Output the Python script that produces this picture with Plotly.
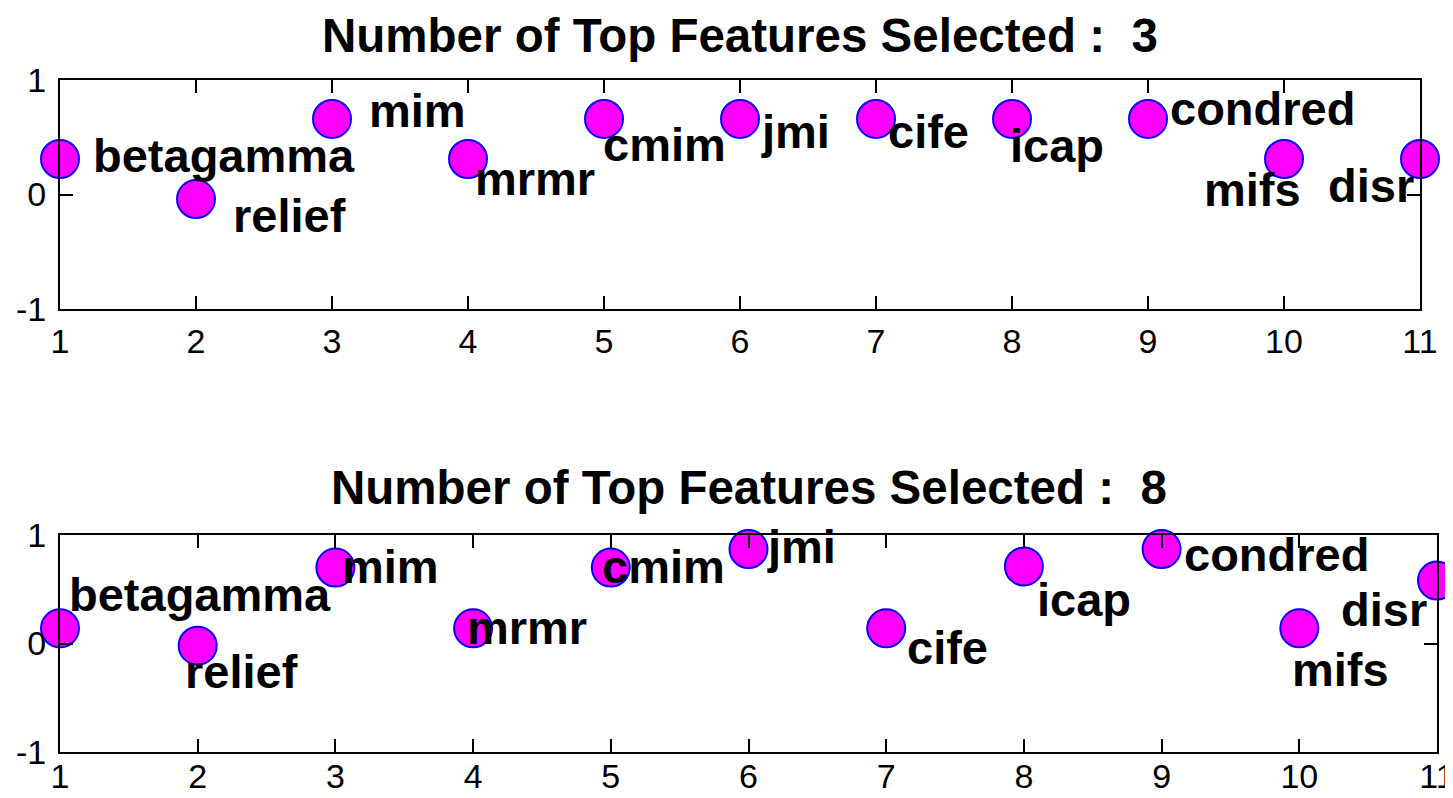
import plotly.graph_objects as go

# ---------------- data ----------------
methods = ["betagamma", "relief", "mim", "mrmr", "cmim", "jmi",
           "cife", "icap", "condred", "mifs", "disr"]
x_index = [1, 2, 3, 4, 5, 6, 7, 8, 9, 10, 11]

top_k = [3, 8]
y_top3 = [0.31, -0.04, 0.66, 0.31, 0.66, 0.66, 0.66, 0.66, 0.66, 0.31, 0.31]
y_top8 = [0.14, -0.02, 0.70, 0.14, 0.70, 0.87, 0.14, 0.71, 0.87, 0.14, 0.58]

x_ticks = [1, 2, 3, 4, 5, 6, 7, 8, 9, 10, 11]
y_ticks = [-1, 0, 1]

# label offsets (data units) relative to each point
dx_top3 = [0.23, 0.26, 0.26, 0.04, -0.02, 0.14, 0.07, -0.03, 0.15, -0.60, -0.69]
dy_top3 = [0.03, -0.14, 0.07, -0.17, -0.22, -0.11, -0.11, -0.23, 0.09, -0.27, -0.23]
dx_top8 = [0.05, -0.11, 0.03, -0.06, -0.08, 0.12, 0.14, 0.08, 0.15, -0.07, -0.71]
dy_top8 = [0.31, -0.24, 0.01, 0.01, 0.01, 0.02, -0.18, -0.30, -0.05, -0.38, -0.27]

# ---------------- figure ----------------
OFF = 8                      # page body margin
W, H = 1453 - OFF, 798 - OFF
fig = go.Figure()

panels = [
    dict(y=y_top3, dx=dx_top3, dy=dy_top3, k=top_k[0], xa="x", ya="y",
         xdom=(60, 1420), ydom=(80, 309)),
    dict(y=y_top8, dx=dx_top8, dy=dy_top8, k=top_k[1], xa="x2", ya="y2",
         xdom=(60, 1437), ydom=(535, 752)),
]

FONT = "Liberation Sans, Arial"
annotations = []
for i, p in enumerate(panels):
    fig.add_trace(go.Scatter(
        x=x_index, y=p["y"], mode="markers", xaxis=p["xa"], yaxis=p["ya"],
        marker=dict(symbol="circle", size=38, color="#FF00FF",
                    line=dict(color="#0000FF", width=2)),
        cliponaxis=False, showlegend=False, hoverinfo="skip"))
    for name, xv, yv, ddx, ddy in zip(methods, x_index, p["y"], p["dx"], p["dy"]):
        annotations.append(dict(
            x=xv + ddx, y=yv + ddy, xref=p["xa"], yref=p["ya"], text=name,
            showarrow=False, xanchor="left", yanchor="middle",
            font=dict(family=FONT, size=47, color="black", weight="bold")))
    title_font = dict(family=FONT, size=47.5, color="black", weight="bold")
    title_text = f"Number of Top Features Selected :  {p['k']}"
    xref_dom = "x domain" if i == 0 else "x2 domain"
    if i == 0:
        annotations.append(dict(
            x=0.5, xref=xref_dom, y=1, yref="paper", text=title_text,
            showarrow=False, xanchor="center", yanchor="top", borderpad=0,
            font=title_font))
    else:
        y0 = p["ydom"][0]
        annotations.append(dict(
            x=0.5, xref=xref_dom, y=1 - (y0 - 48 - OFF) / H, yref="paper",
            text=title_text, showarrow=False, xanchor="center",
            yanchor="middle", font=title_font))

def common(ticks_vals):
    return dict(tickmode="array", tickvals=ticks_vals,
                ticktext=[str(t) for t in ticks_vals],
                ticks="inside", ticklen=13, tickwidth=2, tickcolor="black",
                showline=True, linecolor="black", linewidth=2, mirror="ticks",
                showgrid=False, zeroline=False, automargin=False,
                ticklabeloverflow="allow",
                tickfont=dict(family=FONT, size=34, color="black"))

def xaxis_cfg(dom, standoff):
    d = common(x_ticks)
    d.update(domain=[(dom[0] - OFF) / W, (dom[1] - OFF) / W], range=[1, 11],
             ticklabelstandoff=standoff)
    return d

def yaxis_cfg(dom):
    d = common(y_ticks)
    d.update(domain=[1 - (dom[1] - OFF) / H, 1 - (dom[0] - OFF) / H],
             range=[-1, 1], ticklabelstandoff=5)
    return d

fig.update_layout(
    width=W, height=H,
    margin=dict(l=0, r=0, t=0, b=0),
    paper_bgcolor="white", plot_bgcolor="white",
    xaxis=dict(xaxis_cfg(panels[0]["xdom"], 1), anchor="y"),
    yaxis=dict(yaxis_cfg(panels[0]["ydom"]), anchor="x"),
    xaxis2=dict(xaxis_cfg(panels[1]["xdom"], -7), anchor="y2"),
    yaxis2=dict(yaxis_cfg(panels[1]["ydom"]), anchor="x2"),
    annotations=annotations,
)

fig.write_html("out.html")
